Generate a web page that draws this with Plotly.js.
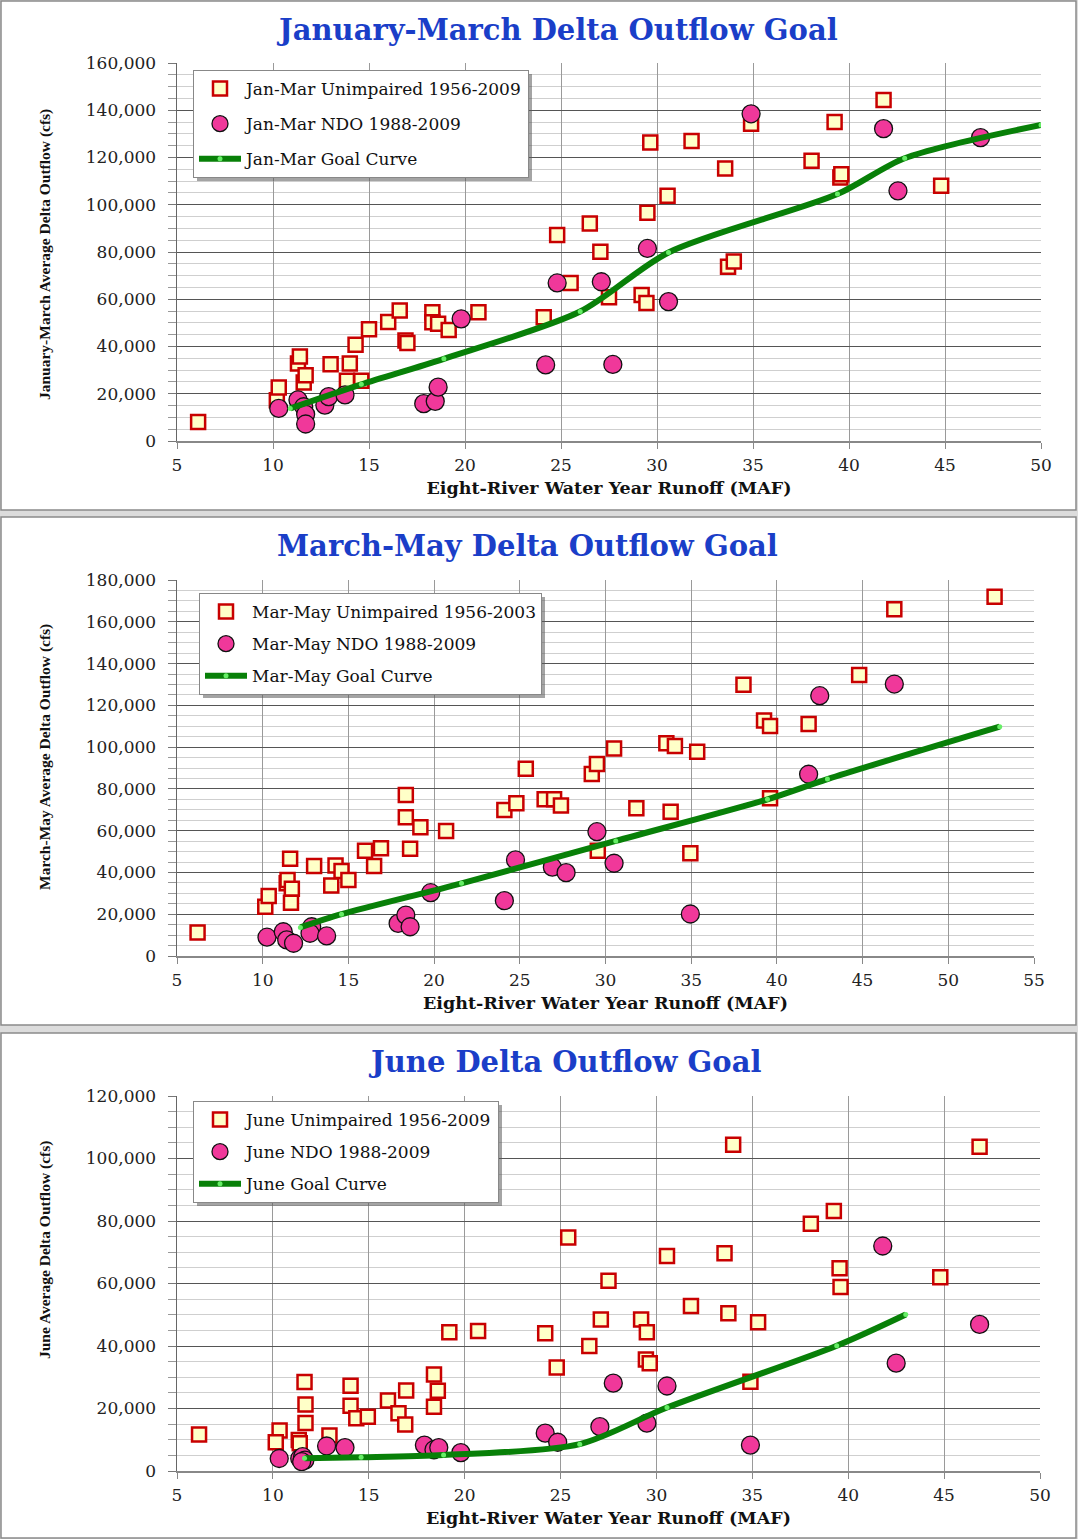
<!DOCTYPE html>
<html>
<head>
<meta charset="utf-8">
<script src="https://cdn.plot.ly/plotly-3.0.1.min.js"></script>
<style>
  html, body { margin: 0; padding: 0; background: #fff; }
  #chart { width: 1078px; height: 1539px; }
</style>
</head>
<body>
<div id="chart"></div>
<script>
// ---------- DATA ----------
// Panel 1: January-March
const janUnimpX = [6.1, 10.2, 10.3, 11.3, 11.4, 11.6, 11.7, 13.0, 13.85, 14.0, 14.3, 14.6, 15.0, 16.0, 16.6, 16.9, 17.0, 18.3, 18.3, 18.6, 19.15, 20.7, 24.1, 24.8, 25.5, 26.5, 27.05, 27.5, 29.2, 29.45, 29.5, 29.65, 30.55, 31.8, 33.55, 33.7, 34.0, 34.9, 38.05, 39.25, 39.55, 39.6, 41.8, 44.8];
const janUnimpY = [8000, 17200, 22600, 32800, 35800, 24800, 27800, 32500, 25500, 32800, 40700, 25500, 47300, 50400, 55200, 42500, 41500, 54500, 50300, 49600, 47000, 54500, 52400, 87200, 66900, 92100, 80100, 60800, 61800, 58400, 96600, 126300, 103800, 127000, 115300, 73800, 76000, 134300, 118600, 135000, 111500, 112900, 144300, 108000];
const janNdoX = [10.3, 11.3, 11.6, 11.7, 11.7, 12.7, 12.9, 13.75, 17.85, 18.45, 18.6, 19.8, 24.2, 24.8, 27.1, 27.7, 29.5, 30.6, 34.9, 41.8, 42.55, 46.85];
const janNdoY = [13800, 17400, 14500, 11300, 7200, 15200, 18800, 19500, 15800, 16800, 22800, 51700, 32200, 66900, 67400, 32400, 81500, 59000, 138500, 132200, 105900, 128400];
const janGoalX = [10.9, 14.6, 18.9, 26.0, 30.6, 39.4, 42.9, 50.0];
const janGoalY = [13800, 24000, 34800, 54800, 79800, 104500, 119700, 133800];

// Panel 2: March-May
const marUnimpX = [6.2, 10.15, 10.35, 11.4, 11.45, 11.6, 11.7, 11.65, 13.0, 14.0, 14.25, 14.6, 15.0, 15.97, 16.9, 16.5, 18.35, 18.35, 18.6, 19.2, 20.7, 24.1, 24.8, 25.35, 26.45, 27.0, 27.4, 29.2, 29.5, 30.5, 29.55, 31.8, 33.8, 33.55, 34.05, 35.35, 34.95, 38.05, 39.25, 39.6, 39.6, 41.85, 44.8, 46.85, 52.7];
const marUnimpY = [11200, 23600, 28700, 34800, 36400, 46500, 32200, 25500, 43100, 33700, 43300, 40700, 36400, 50400, 51600, 43100, 77100, 66400, 51400, 61600, 59900, 69900, 73100, 89700, 75000, 75000, 72100, 87100, 91900, 99300, 50400, 70700, 69100, 101800, 100500, 97800, 49200, 129800, 112700, 110100, 75500, 111100, 134500, 166000, 172000];
const marNdoX = [10.25, 11.2, 11.4, 11.8, 12.86, 12.76, 13.73, 17.9, 18.35, 18.6, 19.8, 24.1, 24.75, 26.9, 27.7, 29.5, 30.5, 34.95, 41.85, 42.5, 46.85];
const marNdoY = [9000, 11600, 7700, 6100, 14000, 10900, 9600, 15600, 19600, 14000, 30300, 26500, 46000, 42500, 39900, 59500, 44400, 20100, 87000, 124600, 130200];
const marGoalX = [12.2, 14.6, 21.6, 30.6, 39.45, 42.95, 53.0];
const marGoalY = [13700, 20000, 34800, 55100, 75000, 84700, 109800];

// Panel 3: June
const junUnimpX = [6.15, 10.35, 10.15, 11.35, 11.4, 11.65, 11.7, 11.7, 12.95, 14.05, 14.05, 14.35, 14.95, 16.0, 16.55, 16.95, 16.9, 18.4, 18.6, 18.4, 19.2, 20.7, 24.2, 24.8, 25.4, 26.5, 27.1, 27.5, 29.2, 29.5, 29.45, 29.65, 30.55, 31.8, 33.55, 33.75, 34.0, 35.3, 34.9, 38.05, 39.25, 39.55, 39.6, 44.8, 46.85];
const junUnimpY = [11700, 13000, 9200, 9900, 8900, 28500, 21300, 15400, 11400, 27300, 20900, 16900, 17400, 22600, 18500, 25800, 14900, 30900, 25700, 20600, 44400, 44800, 44100, 33100, 74700, 40000, 48500, 60900, 48500, 44400, 35700, 34500, 68800, 52800, 69700, 50500, 104400, 47600, 28600, 79100, 83200, 64900, 58900, 62000, 103800];
const junNdoX = [10.33, 11.4, 11.55, 11.67, 11.5, 12.8, 13.76, 17.9, 18.4, 18.65, 19.8, 24.2, 24.85, 27.05, 27.75, 29.5, 30.55, 34.9, 41.8, 42.5, 46.85];
const junNdoY = [4000, 4000, 4600, 3500, 3000, 8000, 7500, 8300, 6800, 7500, 5900, 12100, 9200, 14200, 28100, 15300, 27200, 8300, 72000, 34500, 46900];
const junGoalX = [11.65, 14.6, 18.9, 26.0, 30.55, 39.4, 43.0];
const junGoalY = [4100, 4400, 5100, 8600, 20300, 40100, 50100];

// Text
const titles = ['January-March Delta Outflow Goal', 'March-May Delta Outflow Goal', 'June Delta Outflow Goal'];
const yTitles = ['January-March Average Delta Outflow (cfs)', 'March-May Average Delta Outflow (cfs)', 'June Average Delta Outflow (cfs)'];
const xTitle = 'Eight-River Water Year Runoff (MAF)';
const unimpNames = ['Jan-Mar Unimpaired 1956-2009', 'Mar-May Unimpaired 1956-2003', 'June Unimpaired 1956-2009'];
const ndoNames = ['Jan-Mar NDO 1988-2009', 'Mar-May NDO 1988-2009', 'June NDO 1988-2009'];
const goalNames = ['Jan-Mar Goal Curve', 'Mar-May Goal Curve', 'June Goal Curve'];
const xRanges = [[5, 50], [5, 55], [5, 50]];
const yRanges = [[0, 160000], [0, 180000], [0, 120000]];

// ---------- LAYOUT HELPERS ----------
const W = 1078, H = 1539;
const px = v => v / W;
const py = v => 1 - v / H;

const plotBoxes = [
  {l: 177, r: 1041, t: 63, b: 441},
  {l: 177, r: 1034, t: 580, b: 956},
  {l: 177, r: 1040, t: 1096, b: 1471}
];
const panelBoxes = [
  {t: 1, b: 510},
  {t: 517, b: 1025},
  {t: 1033, b: 1538}
];
const titlePos = [{x: 557, y: 30}, {x: 527, y: 546}, {x: 564, y: 1062}];
const yTitlePos = [{x: 45, y: 255}, {x: 45, y: 757}, {x: 45, y: 1250}];
const legendPos = [{x: 193, y: 70}, {x: 199, y: 593}, {x: 193, y: 1101}];
const legendGaps = [10, 7, 7];

const series = [
  [janUnimpX, janUnimpY, janNdoX, janNdoY, janGoalX, janGoalY],
  [marUnimpX, marUnimpY, marNdoX, marNdoY, marGoalX, marGoalY],
  [junUnimpX, junUnimpY, junNdoX, junNdoY, junGoalX, junGoalY]
];

const serif = 'DejaVu Serif';
const data = [];
const layout = {
  width: W, height: H,
  margin: {l: 0, r: 0, t: 0, b: 0},
  paper_bgcolor: '#dcdcdc',
  plot_bgcolor: '#ffffff',
  showlegend: true,
  font: {family: serif, color: '#111'},
  shapes: [],
  annotations: []
};

for (let i = 0; i < 3; i++) {
  const sfx = i === 0 ? '' : String(i + 1);
  const xa = 'x' + sfx, ya = 'y' + sfx;
  const lg = 'legend' + sfx;
  const [ux, uy, nx, ny, gx, gy] = series[i];

  data.push({
    type: 'scatter', mode: 'markers', x: ux, y: uy, xaxis: xa, yaxis: ya,
    name: unimpNames[i], legend: lg, legendgroup: 'u' + i,
    marker: {symbol: 'square', size: 14, color: '#ffffc8', line: {color: '#c80000', width: 2.5}},
    hoverinfo: 'x+y'
  });
  data.push({
    type: 'scatter', mode: 'markers', x: nx, y: ny, xaxis: xa, yaxis: ya,
    name: ndoNames[i], legend: lg, legendgroup: 'n' + i,
    marker: {symbol: 'circle', size: 18, color: '#f0389a', line: {color: '#111', width: 1.3}},
    hoverinfo: 'x+y'
  });
  data.push({
    type: 'scatter', mode: 'lines+markers', x: gx, y: gy, xaxis: xa, yaxis: ya,
    name: goalNames[i], legend: lg, legendgroup: 'g' + i,
    line: {color: '#088008', width: 6, shape: 'spline', smoothing: 0.8},
    marker: {size: 5, color: '#66ee66'},
    hoverinfo: 'x+y'
  });

  const pb = plotBoxes[i];
  layout['xaxis' + sfx] = {
    domain: [px(pb.l), px(pb.r)],
    anchor: ya,
    range: xRanges[i],
    tick0: 5, dtick: 5,
    showgrid: true, gridcolor: '#9a9a9a', gridwidth: 1,
    zeroline: false,
    showline: true, linecolor: '#888', linewidth: 1.5,
    ticks: 'outside', ticklen: 6, tickcolor: '#888',
    ticklabelstandoff: 2,
    tickfont: {family: serif, size: 17, color: '#222'},
    title: {text: '<b>' + xTitle + '</b>', font: {family: serif, size: 17.5, color: '#111'}, standoff: 8},
    fixedrange: true
  };
  layout['yaxis' + sfx] = {
    domain: [py(pb.b), py(pb.t)],
    anchor: xa,
    range: yRanges[i],
    dtick: 20000,
    tickformat: ',d',
    showgrid: true, gridcolor: '#555', gridwidth: 1,
    zeroline: false,
    showline: true, linecolor: '#666', linewidth: 1.5,
    ticks: 'outside', ticklen: 8, tickcolor: '#777',
    ticklabelstandoff: 8,
    tickfont: {family: serif, size: 17, color: '#222'},
    minor: {dtick: 5000, showgrid: true, gridcolor: '#cfcfcf', gridwidth: 1, ticks: 'outside', ticklen: 8, tickcolor: '#999'},
    fixedrange: true
  };

  const lp = legendPos[i];
  layout[lg] = {
    x: px(lp.x), y: py(lp.y), xanchor: 'left', yanchor: 'top',
    bgcolor: '#ffffff', bordercolor: '#888', borderwidth: 1,
    font: {family: serif, size: 17, color: '#111'},
    tracegroupgap: legendGaps[i], itemwidth: 42,
    traceorder: 'grouped'
  };

  const bx = panelBoxes[i];
  layout.shapes.push({
    type: 'rect', xref: 'paper', yref: 'paper', layer: 'below',
    x0: px(1), x1: px(1076), y0: py(bx.b), y1: py(bx.t),
    fillcolor: '#ffffff', line: {color: '#8a8a8a', width: 1.5}
  });

  const tp = titlePos[i];
  layout.annotations.push({
    xref: 'paper', yref: 'paper', x: px(tp.x), y: py(tp.y),
    xanchor: 'center', yanchor: 'middle', showarrow: false,
    text: '<b>' + titles[i] + '</b>',
    font: {family: serif, size: 29, color: '#1a3ec8'}
  });
  const yt = yTitlePos[i];
  layout.annotations.push({
    xref: 'paper', yref: 'paper', x: px(yt.x), y: py(yt.y),
    xanchor: 'center', yanchor: 'middle', showarrow: false, textangle: -90,
    text: '<b>' + yTitles[i] + '</b>',
    font: {family: 'Liberation Serif', size: 15.5, color: '#111'}
  });
}

Plotly.newPlot('chart', data, layout, {staticPlot: true, displayModeBar: false}).then(gd => {
  // soft drop shadow behind each legend box, sized from the rendered legend
  const fl = gd._fullLayout;
  const extra = [];
  ['legend', 'legend2', 'legend3'].forEach((lg, i) => {
    const L = fl[lg];
    if (!L || !L._width || !L._height) return;
    const x0 = legendPos[i].x, y0 = legendPos[i].y;
    const x1 = x0 + L._width, y1 = y0 + L._height;
    extra.push({
      type: 'rect', xref: 'paper', yref: 'paper', layer: 'above',
      x0: px(x0 + 4), x1: px(x1 + 3), y0: py(y1 + 3), y1: py(y0 + 4),
      fillcolor: 'rgba(90,90,90,0.55)', line: {width: 0}
    });
  });
  if (extra.length) Plotly.relayout(gd, {shapes: layout.shapes.concat(extra)});
});
</script>
</body>
</html>
